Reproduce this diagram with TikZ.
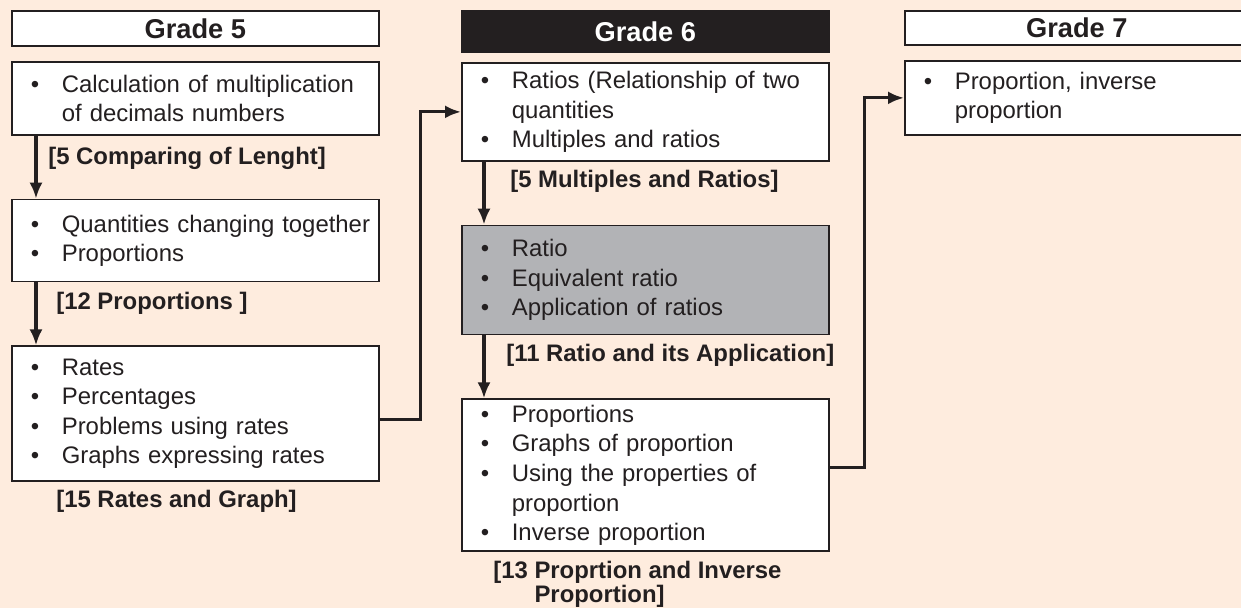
\documentclass[tikz,border=0pt]{standalone}
\usepackage{fontspec}
\setmainfont{Liberation Sans}
\usetikzlibrary{arrows.meta,positioning}
\definecolor{peach}{HTML}{FEECDE}
\definecolor{ink}{HTML}{231F20}
\definecolor{shade}{HTML}{B2B3B6}
\newcommand{\bitem}{\hspace*{3.8mm}\makebox[6.2mm][l]{\textbullet}}
\newcommand{\bcont}{\hspace*{10mm}}
\tikzset{
  topic/.style={draw=ink,line width=1pt,fill=white,text=ink,text width=73.4mm,inner xsep=0pt,inner ysep=0pt,align=left,font=\fontsize{13.6}{16.8}\selectfont},
  grade/.style={draw=ink,line width=1pt,fill=white,text=ink,minimum width=73.4mm,inner sep=0pt,font=\fontsize{15.5}{18}\selectfont\bfseries},
  chapter/.style={text=ink,inner sep=0pt,anchor=base west,font=\fontsize{13.6}{16.8}\selectfont\bfseries},
  flow/.style={-{Latex[length=3.2mm,width=2.6mm]},line width=1.8pt,draw=ink}
}

\begin{document}
\begin{tikzpicture}[x=0.02cm,y=-0.02cm]

\fill[peach] (0,0) rectangle (1241,608);
\useasboundingbox (0,0) rectangle (1241,608);

% grade 5
\node[topic,minimum height=14.6mm,anchor=north west] (g5a) at (11,61) {\bitem Calculation of multiplication\\\bcont of decimals numbers};
\node[topic,minimum height=16.4mm,below=12.6mm of g5a] (g5b) {\bitem Quantities changing together\\\bitem Proportions};
\node[topic,minimum height=27mm,below=12.6mm of g5b] (g5c) {\bitem Rates\\\bitem Percentages\\\bitem Problems using rates\\\bitem Graphs expressing rates};
\node[grade,minimum height=7mm,above=2.8mm of g5a] (g5) {Grade 5};

% grade 6
\node[topic,minimum height=19.6mm,anchor=north west] (g6a) at (461,62) {\bitem Ratios (Relationship of two\\\bcont quantities\\\bitem Multiples and ratios};
\node[topic,fill=shade,minimum height=21.8mm,below=12.6mm of g6a] (g6b) {\bitem Ratio\\\bitem Equivalent ratio\\\bitem Application of ratios};
\node[topic,minimum height=30.4mm,below=12.6mm of g6b] (g6c) {\bitem Proportions\\\bitem Graphs of proportion\\\bitem Using the properties of\\\bcont proportion\\\bitem Inverse proportion};
\node[grade,fill=ink,text=white,minimum height=8.2mm,above=1.8mm of g6a] (g6) {Grade 6};

% grade 7
\node[topic,text width=68.8mm,minimum height=14.8mm,anchor=north west] (g7a) at (904,60) {\bitem Proportion, inverse\\\bcont proportion};
\node[grade,minimum width=68.8mm,minimum height=6.8mm,above=2.8mm of g7a] (g7) {Grade 7};

% chapter labels
\node[chapter] (c5) at (48,165) {[5 Comparing of Lenght]};
\node[chapter] (c12) at (56,309) {[12 Proportions ]};
\node[chapter] (c15) at (56,507) {[15 Rates and Graph]};
\node[chapter] (c5m) at (510,188) {[5 Multiples and Ratios]};
\node[chapter] (c11) at (506,361) {[11 Ratio and its Application]};
\node[chapter,anchor=north west,align=left,font=\fontsize{13.6}{13.7}\selectfont\bfseries] (c13) at (493,561) {[13 Proprtion and Inverse\\\phantom{[13\ }Proportion]};

\draw[flow] ([xshift=5mm]g5a.south west) -- ([xshift=5mm]g5b.north west);
\draw[flow] ([xshift=5mm]g5b.south west) -- ([xshift=5mm]g5c.north west);
\draw[flow] ([xshift=4.6mm]g6a.south west) -- ([xshift=4.6mm]g6b.north west);
\draw[flow] ([xshift=4.6mm]g6b.south west) -- ([xshift=4.6mm]g6c.north west);
\draw[flow] ([yshift=-1.1mm]g5c.east) -- ++(8.2mm,0) |- (g6a.west);
\draw[flow] ([yshift=1.6mm]g6c.east) -- ++(7mm,0) |- (g7a.west);

\end{tikzpicture}
\end{document}
